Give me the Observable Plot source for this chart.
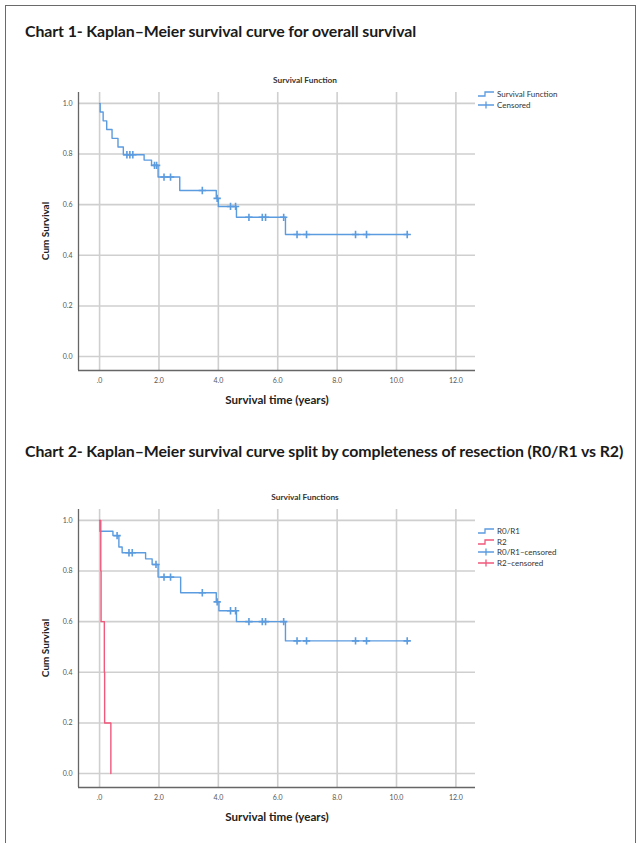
<!DOCTYPE html>
<html>
<head>
<meta charset="utf-8">
<script src="https://cdn.jsdelivr.net/npm/d3@7"></script>
<script src="https://cdn.jsdelivr.net/npm/@observablehq/plot@0.6"></script>
<style>
  body { margin: 0; background: #fff; }
  #page { position: relative; width: 642px; height: 843px; overflow: hidden; font-family: Lato, "Open Sans", sans-serif; color: #1a1a1a; }
  .abs { position: absolute; white-space: nowrap; }
  .frame { position: absolute; left: 5px; top: 5px; width: 631px; height: 900px; border: 1.5px solid #6a6a6a; box-sizing: border-box; }
  .title { font-weight: 700; font-size: 15.9px; left: 25px; letter-spacing: -0.1px; }
  .sub { font-weight: 700; font-size: 8.3px; transform: translateX(-50%); color: #333; }
  .xlab { font-weight: 700; font-size: 11.6px; transform: translate(-50%, -50%); color: #222; }
  .ylab { font-weight: 700; font-size: 10px; transform: translate(-50%, -50%) rotate(-90deg); color: #222; }
  .legend { font-size: 8px; color: #333; line-height: 10.5px; }
  .legend div { display: flex; align-items: center; height: 10.5px; }
  .legend svg { margin-right: 2px; }
  .plotbox { position: absolute; left: 0; }
</style>
</head>
<body>
<div id="page">
  <div class="frame"></div>
</div>
<script>
// ---------- data ----------
const xTicks = [0, 2, 4, 6, 8, 10, 12];
const xTickLabels = [".0", "2.0", "4.0", "6.0", "8.0", "10.0", "12.0"];
const yTicks = [0.0, 0.2, 0.4, 0.6, 0.8, 1.0];
const yTickLabels = ["0.0", "0.2", "0.4", "0.6", "0.8", "1.0"];

// Chart 1: overall survival (step points: time, survival after event)
const overallTime = [0, 0.02, 0.12, 0.24, 0.42, 0.62, 0.8, 1.5, 1.75, 1.97, 2.7, 3.93, 4.0, 4.61, 6.26, 10.4];
const overallSurv = [1.0, 0.966, 0.931, 0.897, 0.862, 0.828, 0.797, 0.776, 0.755, 0.709, 0.656, 0.625, 0.593, 0.55, 0.482, 0.482];
const overallCensored = [0.92, 1.02, 1.12, 1.85, 1.92, 2.17, 2.39, 3.46, 3.96, 4.41, 4.58, 5.03, 5.48, 5.59, 6.2, 6.65, 6.97, 8.62, 8.99, 10.36];

// Chart 2: R0/R1
const r01Time = [0, 0.01, 0.45, 0.65, 0.76, 1.55, 1.77, 1.97, 2.73, 3.93, 4.02, 4.61, 6.26, 10.4];
const r01Surv = [1.0, 0.957, 0.94, 0.895, 0.872, 0.848, 0.826, 0.776, 0.714, 0.678, 0.643, 0.6, 0.524, 0.524];
const r01Censored = [0.59, 0.99, 1.1, 1.9, 2.17, 2.39, 3.46, 3.96, 4.41, 4.58, 5.03, 5.48, 5.59, 6.2, 6.65, 6.97, 8.62, 8.99, 10.36];

// Chart 2: R2
const r2Time = [0, 0.04, 0.05, 0.16, 0.17, 0.38];
const r2Surv = [1.0, 0.8, 0.6, 0.4, 0.2, 0.0];
const r2Censored = [];

const BLUE = "#5b9be0";
const RED = "#f0587c";

// ---------- helpers ----------
function steps(times, surv, group) {
  return times.map((t, i) => ({t, s: surv[i], group}));
}
function censoredPoints(times, surv, cens, group) {
  return cens.map(c => {
    let s = surv[0];
    for (let i = 0; i < times.length; i++) if (times[i] <= c) s = surv[i];
    return {t: c, s, group};
  });
}

const xDomain = [-0.71, 12.66];
const yDomain = [-0.055, 1.043];

function kmPlot(lines, points) {
  return Plot.plot({
    width: 642,
    height: 308,
    marginLeft: 78,
    marginRight: 167,
    marginTop: 6,
    marginBottom: 24,
    style: {fontFamily: "Lato, 'Open Sans', sans-serif", fontSize: "7px", color: "#444", background: "transparent"},
    x: {domain: xDomain, ticks: xTicks, label: null},
    y: {domain: yDomain, ticks: yTicks, label: null},
    marks: [
      Plot.gridX(xTicks, {stroke: "#cfcfcf", strokeOpacity: 1, strokeWidth: 1.6}),
      Plot.gridY(yTicks, {stroke: "#cfcfcf", strokeOpacity: 1, strokeWidth: 1.6}),
      Plot.axisX(xTicks, {tickSize: 0, tickPadding: 8, tickFormat: d => xTickLabels[xTicks.indexOf(d)], fill: "#555"}),
      Plot.axisY(yTicks, {tickSize: 0, tickPadding: 6, tickFormat: d => yTickLabels[yTicks.indexOf(d)], fill: "#555"}),
      Plot.ruleY([yDomain[0]], {stroke: "#666", strokeWidth: 1.3}),
      Plot.ruleX([xDomain[0]], {stroke: "#666", strokeWidth: 1.3}),
      ...lines.map(l => Plot.line(l.data, {x: "t", y: "s", curve: "step-after", stroke: l.color, strokeWidth: 1.4})),
      ...points.map(p => Plot.dot(p.data, {x: "t", y: "s", symbol: "plus", r: 2.5, stroke: p.color, strokeWidth: 1.6}))
    ]
  });
}

const page = document.getElementById("page");
function addDiv(cls, text, style) {
  const d = document.createElement("div");
  d.className = "abs " + cls;
  d.textContent = text;
  Object.assign(d.style, style);
  page.appendChild(d);
  return d;
}
function legendIcon(kind, color) {
  const ns = "http://www.w3.org/2000/svg";
  const svg = document.createElementNS(ns, "svg");
  svg.setAttribute("width", 18); svg.setAttribute("height", 10);
  const p = document.createElementNS(ns, "path");
  p.setAttribute("fill", "none"); p.setAttribute("stroke", color); p.setAttribute("stroke-width", "1.3");
  p.setAttribute("d", kind === "step" ? "M1,7 H8 V3 H17" : "M1,5 H17 M9,1.5 V8.5");
  svg.appendChild(p);
  return svg;
}
function addLegend(items, left, top) {
  const box = document.createElement("div");
  box.className = "abs legend";
  box.style.left = left + "px"; box.style.top = top + "px";
  items.forEach(it => {
    const row = document.createElement("div");
    row.appendChild(legendIcon(it.kind, it.color));
    const sp = document.createElement("span"); sp.textContent = it.label;
    row.appendChild(sp);
    box.appendChild(row);
  });
  page.appendChild(box);
}

// ---------- Chart 1 ----------
addDiv("title", "Chart 1- Kaplan\u2013Meier survival curve for overall survival", {top: "21px"});
addDiv("sub", "Survival Function", {left: "305px", top: "75px"});
const p1 = kmPlot(
  [{data: steps(overallTime, overallSurv, "a"), color: BLUE}],
  [{data: censoredPoints(overallTime, overallSurv, overallCensored, "a"), color: BLUE}]
);
const b1 = document.createElement("div"); b1.className = "plotbox"; b1.style.top = "86px"; b1.appendChild(p1); page.appendChild(b1);
addDiv("xlab", "Survival time (years)", {left: "277px", top: "399px"});
addDiv("ylab", "Cum Survival", {left: "45px", top: "231px"});
addLegend([
  {kind: "step", color: BLUE, label: "Survival Function"},
  {kind: "plus", color: BLUE, label: "Censored"}
], 477, 89);

// ---------- Chart 2 ----------
addDiv("title", "Chart 2- Kaplan\u2013Meier survival curve split by completeness of resection (R0/R1 vs R2)", {top: "441px"});
addDiv("sub", "Survival Functions", {left: "305px", top: "492px"});
const p2 = kmPlot(
  [{data: steps(r01Time, r01Surv, "a"), color: BLUE}, {data: steps(r2Time, r2Surv, "b"), color: RED}],
  [{data: censoredPoints(r01Time, r01Surv, r01Censored, "a"), color: BLUE}, {data: censoredPoints(r2Time, r2Surv, r2Censored, "b"), color: RED}]
);
const b2 = document.createElement("div"); b2.className = "plotbox"; b2.style.top = "503px"; b2.appendChild(p2); page.appendChild(b2);
addDiv("xlab", "Survival time (years)", {left: "277px", top: "816px"});
addDiv("ylab", "Cum Survival", {left: "45px", top: "648px"});
addLegend([
  {kind: "step", color: BLUE, label: "R0/R1"},
  {kind: "step", color: RED, label: "R2"},
  {kind: "plus", color: BLUE, label: "R0/R1\u2013censored"},
  {kind: "plus", color: RED, label: "R2\u2013censored"}
], 477, 526);
</script>
</body>
</html>
